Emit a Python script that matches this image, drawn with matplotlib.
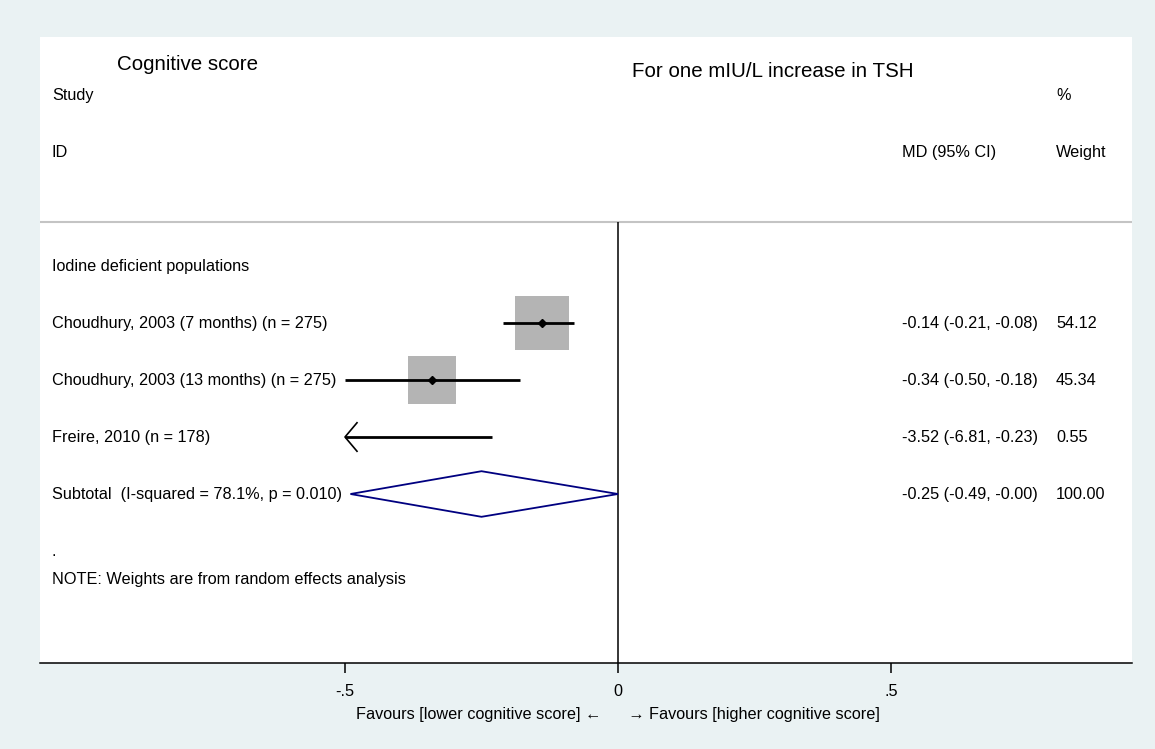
import matplotlib.pyplot as plt
import matplotlib.patches as mpatches

plt.rcParams['font.family'] = ['Liberation Sans', 'DejaVu Sans']

# Data
studies = ['Choudhury, 2003 (7 months) (n = 275)',
           'Choudhury, 2003 (13 months) (n = 275)',
           'Freire, 2010 (n = 178)']
md = [-0.14, -0.34, -3.52]
ci_low = [-0.21, -0.50, -6.81]
ci_high = [-0.08, -0.18, -0.23]
weights = [54.12, 45.34, 0.55]

group_label = 'Iodine deficient populations'
subtotal_label = 'Subtotal  (I-squared = 78.1%, p = 0.010)'
sub_md, sub_low, sub_high, sub_weight = -0.25, -0.49, -0.00, 100.00

xticks = [-0.5, 0, 0.5]
xticklabels = ['-.5', '0', '.5']
plot_min = -0.5  # CIs beyond this get an arrow

bg = '#eaf2f3'
fig = plt.figure(figsize=(11.55, 7.49), dpi=100, facecolor=bg)
ax = fig.add_axes([40 / 1155, 1 - 663 / 749, 1092 / 1155, 626 / 749])
ax.set_facecolor('white')
ax.set_xlim(-1.0586, 0.9414)
ax.set_ylim(6.965, -4.018)

for s in ['top', 'left', 'right']:
    ax.spines[s].set_visible(False)
ax.spines['bottom'].set_linewidth(1.1)
ax.set_yticks([])
ax.set_xticks(xticks)
ax.set_xticklabels(xticklabels)
ax.tick_params(axis='x', length=7, width=1.1, pad=8, labelsize=11.7)

fs = 11.7
x_left = -1.037    # study label column
x_md = 0.520       # MD column
x_w = 0.802        # weight column

# headers
ax.text(-0.918, -3.54, 'Cognitive score', fontsize=14.8, va='center')
ax.text(0.0256, -3.42, 'For one mIU/L increase in TSH', fontsize=14.8, va='center')
ax.text(x_left, -3, 'Study', fontsize=fs, va='center')
ax.text(x_left, -2, 'ID', fontsize=fs, va='center')
ax.text(x_md, -2, 'MD (95% CI)', fontsize=fs, va='center')
ax.text(x_w, -3, '%', fontsize=fs, va='center')
ax.text(x_w, -2, 'Weight', fontsize=fs, va='center')
ax.axhline(-0.77, color='#c4c4c4', lw=1.5)

# zero line
ax.vlines(0, -0.77, 6.965, color='black', lw=1.1)

ax.text(x_left, 0, group_label, fontsize=fs, va='center')

for i, (name, m, lo, hi, w) in enumerate(zip(studies, md, ci_low, ci_high, weights)):
    y = i + 1
    ax.text(x_left, y, name, fontsize=fs, va='center')
    ax.text(x_md, y, f'{m:.2f} ({lo:.2f}, {hi:.2f})', fontsize=fs, va='center')
    ax.text(x_w, y, f'{w:.2f}', fontsize=fs, va='center')
    if plot_min <= m:
        ax.scatter([m], [y], s=w * 27, marker='s', color='#b4b4b4', zorder=2, linewidths=0)
        ax.plot([m], [y], marker='D', color='black', markersize=4, zorder=4)
    left = max(lo, plot_min)
    ax.plot([left, hi], [y, y], color='black', lw=2, zorder=3, solid_capstyle='butt')
    if lo < plot_min:
        ax.plot([left + 0.022, left, left + 0.022], [y - 0.25, y, y + 0.25],
                color='black', lw=1.2, zorder=3)

# subtotal diamond
y = 4
ax.text(x_left, y, subtotal_label, fontsize=fs, va='center')
ax.text(x_md, y, f'{sub_md:.2f} ({sub_low:.2f}, {sub_high:.2f})', fontsize=fs, va='center')
ax.text(x_w, y, f'{sub_weight:.2f}', fontsize=fs, va='center')
diamond = mpatches.Polygon([(sub_low, y), (sub_md, y - 0.4), (sub_high, y), (sub_md, y + 0.4)],
                           closed=True, facecolor='white', edgecolor='#000080', lw=1.3, zorder=3)
ax.add_patch(diamond)

ax.text(x_left, 5, '.', fontsize=fs, va='center')
ax.text(x_left, 5.5, 'NOTE: Weights are from random effects analysis', fontsize=fs, va='center')

ax.text(0, 7.86, 'Favours [lower cognitive score] \u2190      \u2192 Favours [higher cognitive score]',
        fontsize=fs, ha='center', va='center', clip_on=False)

fig.savefig('out.png', dpi=100, facecolor=bg)
